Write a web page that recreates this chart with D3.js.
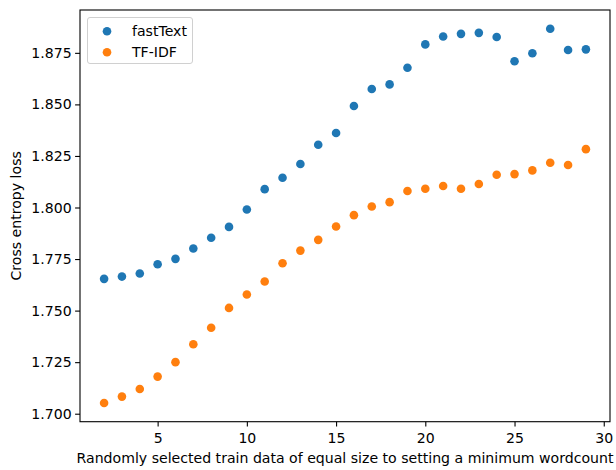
<!DOCTYPE html>
<html>
<head>
<meta charset="utf-8">
<script src="https://cdn.jsdelivr.net/npm/d3@7"></script>
<style>
body { margin: 0; background: #fff; }
svg { display: block; font-family: "DejaVu Sans", sans-serif; }
</style>
</head>
<body>
<svg id="chart" width="616" height="470"></svg>
<script>
const xValues = [2,3,4,5,6,7,8,9,10,11,12,13,14,15,16,17,18,19,20,21,22,23,24,25,26,27,28,29];
const fastTextValues = [1.7654,1.7665,1.7680,1.7725,1.7751,1.7801,1.7853,1.7906,1.7990,1.8089,1.8144,1.8211,1.8304,1.8361,1.8492,1.8575,1.8597,1.8678,1.8791,1.8829,1.8842,1.8847,1.8827,1.8709,1.8748,1.8867,1.8764,1.8767];
const tfidfValues = [1.7052,1.7083,1.7120,1.7180,1.7250,1.7337,1.7417,1.7513,1.7578,1.7641,1.7730,1.7791,1.7843,1.7908,1.7963,1.8005,1.8026,1.8080,1.8091,1.8104,1.8091,1.8114,1.8159,1.8162,1.8180,1.8217,1.8206,1.8283];
const seriesNames = ["fastText", "TF-IDF"];
const seriesColors = ["#1f77b4", "#ff7f0e"];
const xTicks = [5,10,15,20,25,30];
const yTicks = [1.700,1.725,1.750,1.775,1.800,1.825,1.850,1.875];
const xLabel = "Randomly selected train data of equal size to setting a minimum wordcount";
const yLabel = "Cross entropy loss";

const svg = d3.select("#chart");
const L = 80, R = 610, T = 10, B = 421.7;
const FS = "14.1px";

const xmin = d3.min(xValues), xmax = d3.max(xValues);
const xpad = (xmax - xmin) * 0.05;
const allY = fastTextValues.concat(tfidfValues);
const ymin = d3.min(allY), ymax = d3.max(allY);
const ypad = (ymax - ymin) * 0.05;

const x = d3.scaleLinear().domain([xmin - xpad, xmax + xpad]).range([L, R]);
const y = d3.scaleLinear().domain([ymin - ypad, ymax + ypad]).range([B, T]);

const series = [
  { name: seriesNames[0], values: fastTextValues, color: seriesColors[0] },
  { name: seriesNames[1], values: tfidfValues, color: seriesColors[1] }
];

series.forEach(s => {
  svg.append("g").selectAll("circle").data(xValues.map((xv, i) => [xv, s.values[i]]))
    .join("circle")
    .attr("cx", d => x(d[0]))
    .attr("cy", d => y(d[1]))
    .attr("r", 4.3)
    .attr("fill", s.color);
});

const xAxis = svg.append("g").attr("transform", `translate(0,${B})`)
  .call(d3.axisBottom(x).tickValues(xTicks).tickFormat(d3.format("d")).tickSize(4.9).tickPadding(3.5));
const yAxis = svg.append("g").attr("transform", `translate(${L},0)`)
  .call(d3.axisLeft(y).tickValues(yTicks).tickFormat(d3.format(".3f")).tickSize(4.9).tickPadding(3.5));
[xAxis, yAxis].forEach(a => {
  a.select(".domain").remove();
  a.selectAll("line").attr("stroke", "#000").attr("stroke-width", 1.1);
  a.selectAll("text").attr("font-size", FS).attr("fill", "#000").attr("font-family", "DejaVu Sans");
});
xAxis.selectAll("text").attr("dy", "0.95em");

svg.append("rect").attr("x", L).attr("y", T).attr("width", R - L).attr("height", B - T)
  .attr("fill", "none").attr("stroke", "#000").attr("stroke-width", 1.1);

svg.append("text").attr("x", (L + R) / 2).attr("y", 463).attr("text-anchor", "middle")
  .attr("font-size", FS).attr("fill", "#000").text(xLabel);
svg.append("text").attr("transform", `translate(21,${(T + B) / 2}) rotate(-90)`)
  .attr("text-anchor", "middle").attr("font-size", FS).attr("fill", "#000").text(yLabel);

// legend
const lg = svg.append("g");
lg.append("rect").attr("x", 87.5).attr("y", 17.5).attr("width", 105).attr("height", 46).attr("rx", 2.5)
  .attr("fill", "#fff").attr("fill-opacity", 0.8).attr("stroke", "#d0d0d0").attr("stroke-width", 1);
series.forEach((s, i) => {
  const cy = 31.3 + i * 21;
  lg.append("circle").attr("cx", 107).attr("cy", cy).attr("r", 4.3).attr("fill", s.color);
  lg.append("text").attr("x", 132).attr("y", cy).attr("dy", "0.35em")
    .attr("font-size", FS).attr("fill", "#000").text(s.name);
});
</script>
</body>
</html>
